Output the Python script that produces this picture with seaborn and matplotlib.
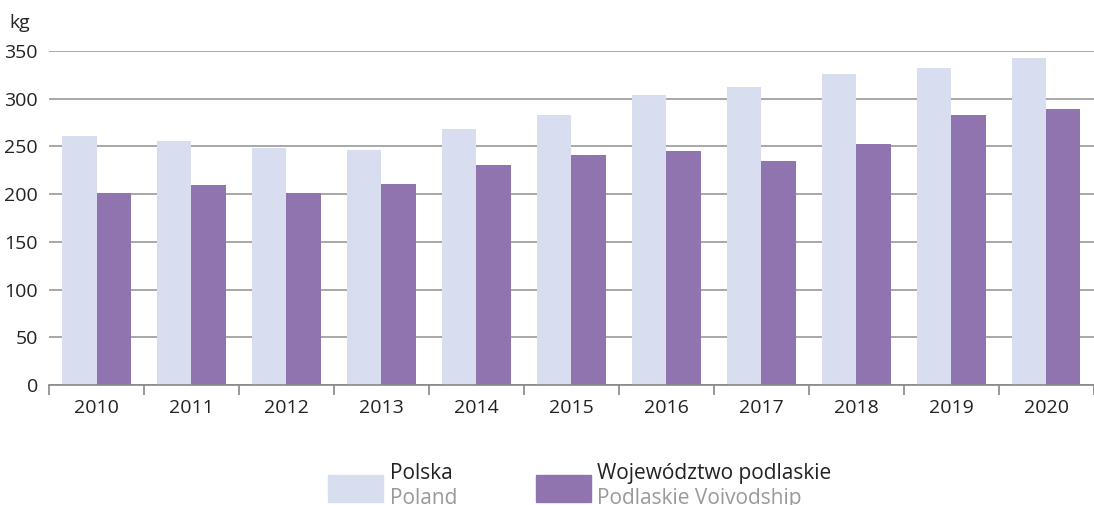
import pandas as pd
import seaborn as sns
import matplotlib.pyplot as plt
from matplotlib.patches import Rectangle
from matplotlib.ticker import FixedLocator

# dane
lata = [2010, 2011, 2012, 2013, 2014, 2015, 2016, 2017, 2018, 2019, 2020]
polska = [261, 256, 248, 246, 268, 283, 304, 312, 326, 332, 343]
podlaskie = [201, 210, 201, 211, 231, 241, 245, 235, 253, 283, 289]

nazwy = ["Polska", "Województwo podlaskie"]
nazwy_en = ["Poland", "Podlaskie Voivodship"]
kolory = ["#D9DDF0", "#9074B0"]

df = pd.DataFrame({
    "rok": [str(r) for r in lata] * 2,
    "kg": polska + podlaskie,
    "seria": [nazwy[0]] * len(lata) + [nazwy[1]] * len(lata),
})

sns.set_theme(style="white")
plt.rcParams["font.family"] = ["Open Sans", "DejaVu Sans"]

fig = plt.figure(figsize=(10.94, 5.05), dpi=100)
ax = fig.add_axes([0.0448, 0.2376, 0.955, 0.6614])

sns.barplot(data=df, x="rok", y="kg", hue="seria", palette=kolory,
            saturation=1, width=0.72, gap=0, linewidth=0, legend=False, ax=ax)

ax.set_ylim(0, 350)
ax.set_xlim(-0.5, len(lata) - 0.5)
ax.set_yticks(range(0, 351, 50))
ax.yaxis.grid(True, color="#999999", linewidth=1.2)
ax.set_axisbelow(True)
ax.set_xlabel("")
ax.set_ylabel("")
for s in ["left", "right", "top"]:
    ax.spines[s].set_visible(False)
ax.spines["bottom"].set_color("#888888")
ax.spines["bottom"].set_linewidth(1.2)

ax.tick_params(axis="y", length=0, labelsize=14, pad=8, colors="#222222")
ax.tick_params(axis="x", which="major", length=0, labelsize=14, pad=10, colors="#222222")
ax.xaxis.set_minor_locator(FixedLocator([i - 0.5 for i in range(len(lata) + 1)]))
ax.tick_params(axis="x", which="minor", length=7, width=1.2, color="#888888", bottom=True)

fig.text(0.009, 0.955, "kg", fontsize=14, color="#222222", va="center")

# legenda
x_prost = [0.300, 0.490]
x_tekst = [0.3565, 0.5457]
for x0, xt, kol, pl, en in zip(x_prost, x_tekst, kolory, nazwy, nazwy_en):
    fig.patches.append(Rectangle((x0, 0.005), 0.050, 0.055,
                                 transform=fig.transFigure, color=kol))
    fig.text(xt, 0.062, pl, fontsize=15, color="#222222", va="center")
    fig.text(xt, 0.012, en, fontsize=15, color="#999999", va="center")

fig.savefig("out.png", dpi=100)
